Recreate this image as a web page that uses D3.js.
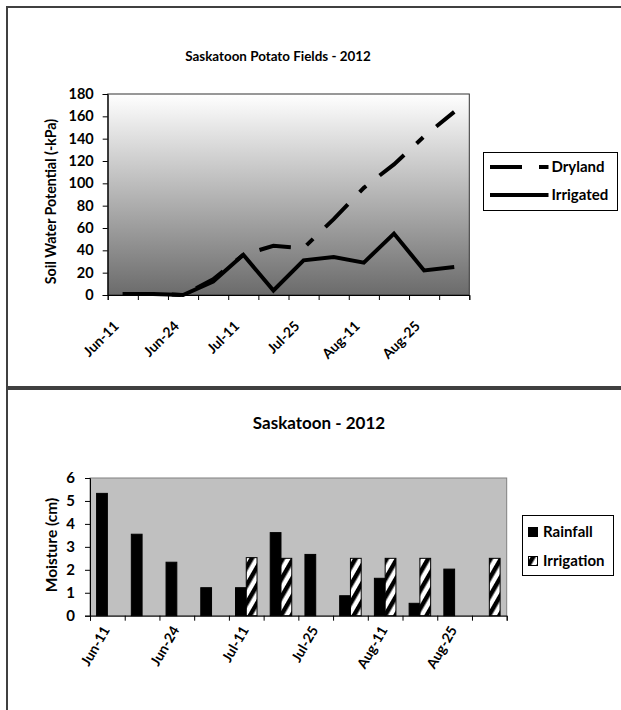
<!DOCTYPE html>
<html><head><meta charset="utf-8">
<script src="https://cdnjs.cloudflare.com/ajax/libs/d3/7.8.5/d3.min.js"></script>
<style>
body{margin:0;background:#fff}
svg{display:block}
text{font-family:Lato,"Open Sans",sans-serif;font-weight:bold;fill:#000}
</style>
</head><body>
<svg id="c" width="621" height="710"></svg>
<script>
// ---- data ----
const categories = ["Jun-11","Jun-18","Jun-24","Jul-04","Jul-11","Jul-18","Jul-25","Aug-04","Aug-11","Aug-18","Aug-25","Sep-01"];
const tickLabels = ["Jun-11","Jun-24","Jul-11","Jul-25","Aug-11","Aug-25"];
const dryland   = [1,1,0,14,36,44,42,68,96,117,142,164];
const irrigated = [1,1,0,12,36,4,31,34,29,55,22,25];
const rainfall   = [5.33,3.55,2.33,1.22,1.22,3.62,2.67,0.87,1.63,0.54,2.03,0];
const irrigation = [0,0,0,0,2.53,2.5,0,2.5,2.5,2.5,0,2.5];
const topTicks = [0,20,40,60,80,100,120,140,160,180];
const botTicks = [0,1,2,3,4,5,6];

const svg = d3.select("#c");
const defs = svg.append("defs");
const grad = defs.append("linearGradient").attr("id","g").attr("x1",0).attr("y1",0).attr("x2",0).attr("y2",1);
grad.append("stop").attr("offset","0%").attr("stop-color","#ffffff");
grad.append("stop").attr("offset","100%").attr("stop-color","#6b6b6b");
const pat = defs.append("pattern").attr("id","hatch").attr("patternUnits","userSpaceOnUse")
  .attr("width",9).attr("height",9).attr("patternTransform","rotate(30)");
pat.append("rect").attr("width",9).attr("height",9).attr("fill","#fff");
pat.append("rect").attr("width",4.5).attr("height",9).attr("fill","#000");

// outer boxes
svg.append("rect").attr("x",7).attr("y",7).attr("width",640).attr("height",380)
  .attr("fill","none").attr("stroke","#404040").attr("stroke-width",2);
svg.append("rect").attr("x",7).attr("y",389).attr("width",640).attr("height",340)
  .attr("fill","none").attr("stroke","#404040").attr("stroke-width",2);

// ================= TOP CHART =================
const T = {l:107.7, r:469.3, t:94, b:295};
const xT = d3.scaleBand().domain(categories).range([T.l,T.r]).padding(0);
const xTi = d3.scaleLinear().domain([0,categories.length]).range([T.l,T.r]);
const yT = d3.scaleLinear().domain([0,180]).range([T.b,T.t]);

svg.append("rect").attr("x",T.l).attr("y",T.t).attr("width",T.r-T.l).attr("height",T.b-T.t)
  .attr("fill","url(#g)").attr("stroke","#333").attr("stroke-width",1);

svg.append("text").attr("x",278).attr("y",61).attr("text-anchor","middle")
  .style("font-size","13.4px").text("Saskatoon Potato Fields - 2012");

const line = d3.line().x((d,i)=>xT(categories[i])+xT.bandwidth()/2).y(d=>yT(d));
svg.append("path").datum(dryland).attr("d",line).attr("fill","none").attr("stroke","#000")
  .attr("stroke-width",4).attr("stroke-dasharray","32,17,9,17");
svg.append("path").datum(irrigated).attr("d",line).attr("fill","none").attr("stroke","#000")
  .attr("stroke-width",4).attr("stroke-linejoin","miter");

const yAxT = svg.append("g").attr("transform",`translate(${T.l},0)`)
  .call(d3.axisLeft(yT).tickValues(topTicks).tickSize(5).tickPadding(9));
yAxT.selectAll("text").style("font-size","14.5px");
const xAxT = svg.append("g").attr("transform",`translate(0,${T.b})`)
  .call(d3.axisBottom(xTi).tickValues(d3.range(categories.length+1)).tickSize(5).tickFormat(""));
const xLabT = svg.append("g").attr("transform",`translate(0,${T.b})`)
  .call(d3.axisBottom(xT).tickValues(tickLabels).tickSize(0));
xLabT.select(".domain").remove();
xLabT.selectAll("text").style("font-size","14px").attr("text-anchor","end")
  .attr("y",0).attr("dy",0).attr("transform","translate(-3,32) rotate(-45)");
[yAxT,xAxT].forEach(g=>g.selectAll("line,path").attr("stroke","#000"));

svg.append("text").attr("transform",`translate(56,201.5) rotate(-90)`)
  .attr("text-anchor","middle").style("font-size","14.2px").text("Soil Water Potential (-kPa)");

// legend top
const lgT = svg.append("g");
lgT.append("rect").attr("x",483.5).attr("y",152.5).attr("width",134).attr("height",58)
  .attr("fill","#fff").attr("stroke","#000");
const lt = [{n:"Dryland",dash:"32,17,10,20",y:167},{n:"Irrigated",dash:null,y:195}];
lt.forEach(d=>{
  lgT.append("line").attr("x1",490).attr("x2",548.5).attr("y1",d.y).attr("y2",d.y)
    .attr("stroke","#000").attr("stroke-width",4).attr("stroke-dasharray",d.dash);
  lgT.append("text").attr("x",551.5).attr("y",d.y).attr("dy","0.35em").style("font-size","15px").text(d.n);
});

// ================= BOTTOM CHART =================
const B = {l:90, r:506.7, t:478, b:615.7};
const xB = d3.scaleBand().domain(categories).range([B.l,B.r]).padding(0);
const xBi = d3.scaleLinear().domain([0,categories.length]).range([B.l,B.r]);
const yB = d3.scaleLinear().domain([0,6]).range([B.b,B.t]);
const series = ["Rainfall","Irrigation"];
const bw = xB.bandwidth();
const xS = d3.scaleBand().domain(series).range([-bw*0.31, bw*0.31]).padding(0);

svg.append("rect").attr("x",B.l).attr("y",B.t).attr("width",B.r-B.l).attr("height",B.b-B.t)
  .attr("fill","#c0c0c0").attr("stroke","#808080").attr("stroke-width",1);

svg.append("text").attr("x",319).attr("y",429).attr("text-anchor","middle")
  .style("font-size","17px").text("Saskatoon - 2012");

const barData = [];
categories.forEach((c,i)=>{
  if (rainfall[i]>0) barData.push({c, s:"Rainfall", v:rainfall[i]});
  if (irrigation[i]>0) barData.push({c, s:"Irrigation", v:irrigation[i]});
});
svg.append("g").selectAll("rect").data(barData).join("rect")
  .attr("x",d=>xB(d.c)+bw/2+xS(d.s)).attr("width",xS.bandwidth())
  .attr("y",d=>yB(d.v)).attr("height",d=>yB(0)-yB(d.v))
  .attr("fill",d=>d.s==="Rainfall"?"#000":"url(#hatch)")
  .attr("stroke","#000").attr("stroke-width",1);

const yAxB = svg.append("g").attr("transform",`translate(${B.l},0)`)
  .call(d3.axisLeft(yB).tickValues(botTicks).tickFormat(d3.format("d")).tickSize(5).tickPadding(10));
yAxB.selectAll("text").style("font-size","15px");
const xAxB = svg.append("g").attr("transform",`translate(0,${B.b})`)
  .call(d3.axisBottom(xBi).tickValues(d3.range(categories.length+1)).tickSize(5).tickFormat(""));
const xLabB = svg.append("g").attr("transform",`translate(0,${B.b})`)
  .call(d3.axisBottom(xB).tickValues(tickLabels).tickSize(0));
xLabB.select(".domain").remove();
xLabB.selectAll("text").style("font-size","14px").attr("text-anchor","end")
  .attr("y",0).attr("dy",0).attr("transform","translate(3,14) rotate(-60)");
[yAxB,xAxB].forEach(g=>g.selectAll("line,path").attr("stroke","#000"));

svg.append("text").attr("transform",`translate(57,545) rotate(-90)`)
  .attr("text-anchor","middle").style("font-size","15.5px").text("Moisture (cm)");

// legend bottom
const lgB = svg.append("g");
lgB.append("rect").attr("x",522.5).attr("y",515.5).attr("width",91).attr("height",60)
  .attr("fill","#fff").attr("stroke","#000");
const lb = [{n:"Rainfall",f:"#000",y:532},{n:"Irrigation",f:"url(#hatch)",y:561}];
lb.forEach(d=>{
  lgB.append("rect").attr("x",528.5).attr("y",d.y-4.5).attr("width",9).attr("height",9)
    .attr("fill",d.f).attr("stroke","#000");
  lgB.append("text").attr("x",543).attr("y",d.y).attr("dy","0.35em").style("font-size","15px").text(d.n);
});
</script>
</body></html>
